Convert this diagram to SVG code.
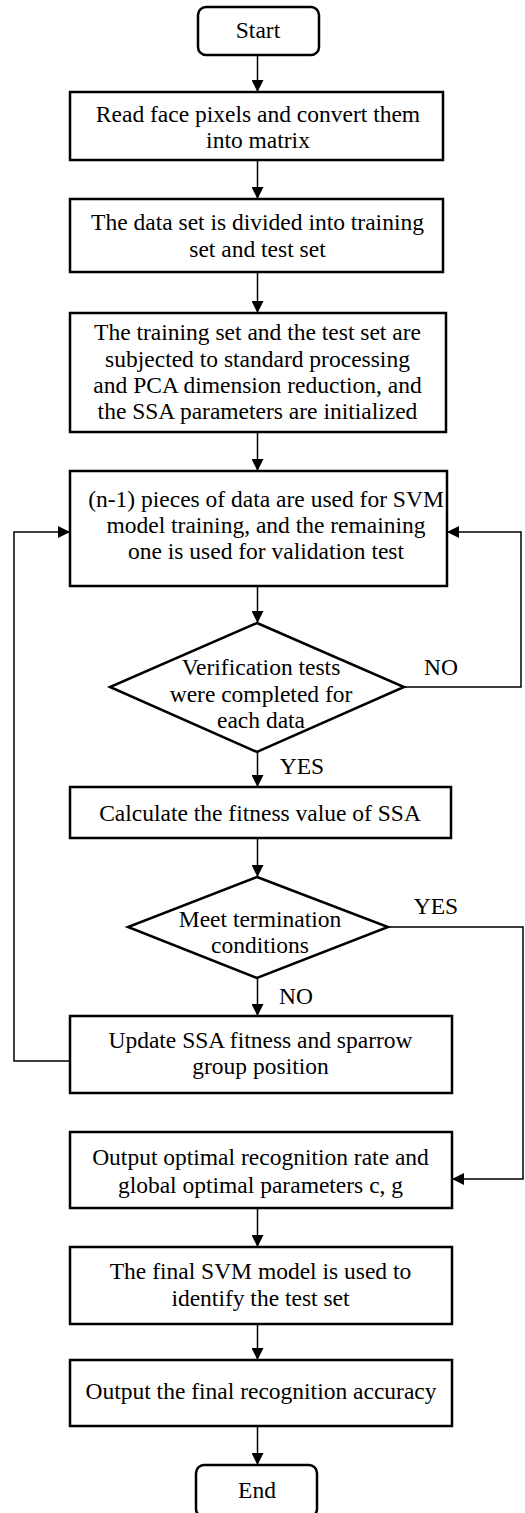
<svg xmlns="http://www.w3.org/2000/svg" width="525" height="1513" viewBox="0 0 525 1513">
<style>
.n{fill:#fff;stroke:#000;stroke-width:2.5}
.c{fill:none;stroke:#000;stroke-width:1.5}
text{font-family:"Liberation Serif","Times New Roman",serif;font-size:23.5px;fill:#000;text-anchor:middle}
</style>
<defs>
<marker id="ah" markerUnits="userSpaceOnUse" markerWidth="12" markerHeight="12" refX="12" refY="6" orient="auto">
<path d="M0,0 L12,6 L0,12 Z" fill="#000"/>
</marker>
</defs>
<rect width="525" height="1513" fill="#fff"/>
<g id="connectors">
<line class="c" x1="257.5" y1="55" x2="257.5" y2="92" marker-end="url(#ah)"/>
<line class="c" x1="257.5" y1="160" x2="257.5" y2="199" marker-end="url(#ah)"/>
<line class="c" x1="257.5" y1="272" x2="257.5" y2="313" marker-end="url(#ah)"/>
<line class="c" x1="257.5" y1="432" x2="257.5" y2="471" marker-end="url(#ah)"/>
<line class="c" x1="257.5" y1="586" x2="257.5" y2="623" marker-end="url(#ah)"/>
<line class="c" x1="257.5" y1="752" x2="257.5" y2="787" marker-end="url(#ah)"/>
<line class="c" x1="257.5" y1="838" x2="257.5" y2="877" marker-end="url(#ah)"/>
<line class="c" x1="257.5" y1="978" x2="257.5" y2="1016" marker-end="url(#ah)"/>
<polyline class="c" points="404,687 521,687 521,532 447,532" marker-end="url(#ah)"/>
<polyline class="c" points="70,1061 14,1061 14,532 70,532" marker-end="url(#ah)"/>
<polyline class="c" points="388,927 523,927 523,1179 452,1179" marker-end="url(#ah)"/>
<line class="c" x1="257.5" y1="1208" x2="257.5" y2="1247" marker-end="url(#ah)"/>
<line class="c" x1="257.5" y1="1324" x2="257.5" y2="1360" marker-end="url(#ah)"/>
<line class="c" x1="257.5" y1="1426" x2="257.5" y2="1465" marker-end="url(#ah)"/>
<text x="441" y="675">NO</text>
<text x="302" y="774">YES</text>
<text x="436" y="914">YES</text>
<text x="296" y="1004">NO</text>
</g>
<g id="start">
<rect class="n" x="198" y="7" width="121" height="48" rx="8"/>
<text x="258" y="38">Start</text>
</g>
<g id="read">
<rect class="n" x="70" y="92" width="373" height="68"/>
<text x="258" y="122">Read face pixels and convert them</text>
<text x="258" y="148">into matrix</text>
</g>
<g id="divide">
<rect class="n" x="70" y="199" width="373" height="73"/>
<text x="257.5" y="230">The data set is divided into training</text>
<text x="257.5" y="257">set and test set</text>
</g>
<g id="preprocess">
<rect class="n" x="70" y="313" width="376" height="119"/>
<text x="257.5" y="340">The training set and the test set are</text>
<text x="257.5" y="367">subjected to standard processing</text>
<text x="257.5" y="393">and PCA dimension reduction, and</text>
<text x="257.5" y="419">the SSA parameters are initialized</text>
</g>
<g id="train">
<rect class="n" x="70" y="471" width="377" height="115"/>
<text x="266" y="507">(n-1) pieces of data are used for SVM</text>
<text x="266" y="533">model training, and the remaining</text>
<text x="266" y="559">one is used for validation test</text>
</g>
<g id="verify">
<polygon class="n" points="257,623 404,687 257,752 110,687"/>
<text x="261" y="675">Verification tests</text>
<text x="261" y="702">were completed for</text>
<text x="261" y="728">each data</text>
</g>
<g id="fitness">
<rect class="n" x="70" y="787" width="381" height="51"/>
<text x="260" y="821">Calculate the fitness value of SSA</text>
</g>
<g id="terminate">
<polygon class="n" points="257,877 388,927 257,978 128,927"/>
<text x="260" y="927">Meet termination</text>
<text x="260" y="953">conditions</text>
</g>
<g id="update">
<rect class="n" x="70" y="1016" width="382" height="77"/>
<text x="260.5" y="1048">Update SSA fitness and sparrow</text>
<text x="260.5" y="1074">group position</text>
</g>
<g id="output-optimal">
<rect class="n" x="70" y="1132" width="382" height="76"/>
<text x="260.5" y="1165">Output optimal recognition rate and</text>
<text x="260.5" y="1193">global optimal parameters c, g</text>
</g>
<g id="final-model">
<rect class="n" x="70" y="1247" width="382" height="77"/>
<text x="260.5" y="1279">The final SVM model is used to</text>
<text x="260.5" y="1306">identify the test set</text>
</g>
<g id="accuracy">
<rect class="n" x="70" y="1360" width="382" height="66"/>
<text x="261" y="1399">Output the final recognition accuracy</text>
</g>
<g id="end">
<rect class="n" x="196" y="1465" width="121" height="52" rx="8"/>
<text x="257" y="1498">End</text>
</g>
</svg>
